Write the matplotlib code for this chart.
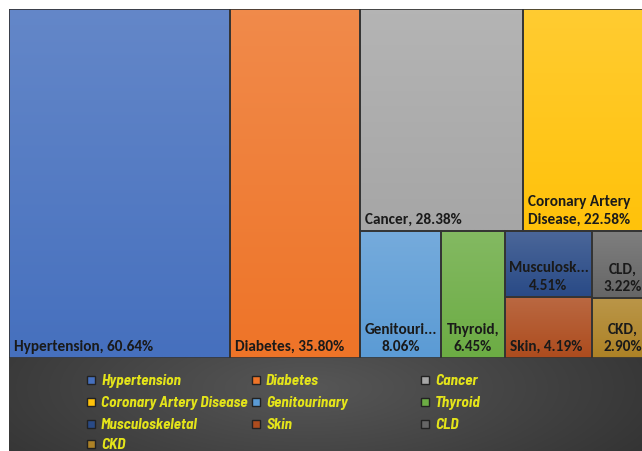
import numpy as np
import matplotlib
matplotlib.use("Agg")
from matplotlib import pyplot as plt
from matplotlib.colors import to_rgb

labels = ["Hypertension", "Diabetes", "Cancer", "Coronary Artery Disease",
          "Genitourinary", "Thyroid", "Musculoskeletal", "Skin", "CLD", "CKD"]
values = [60.64, 35.80, 28.38, 22.58, 8.06, 6.45, 4.51, 4.19, 3.22, 2.90]
box_text = ["Hypertension, 60.64%", "Diabetes, 35.80%", "Cancer, 28.38%",
            "Coronary Artery\nDisease, 22.58%", "Genitouri...\n8.06%",
            "Thyroid,\n6.45%", "Musculosk...\n4.51%", "Skin, 4.19%",
            "CLD,\n3.22%", "CKD,\n2.90%"]
colors = ["#4670be", "#ee7428", "#a6a6a6", "#ffc20a", "#5b9bd5",
          "#6cac44", "#294a86", "#ad4c1e", "#666666", "#ad8226"]


def lighten(c, f):
    r = np.array(to_rgb(c))
    return tuple(r + (1 - r) * f)


def layout(vals):
    # excel-like treemap: two full-height columns, then rows in the rest
    rects = []
    x = 0.0
    for v in vals[:2]:
        rects.append((x, 0.0, v, 1.0))
        x += v
    rest = vals[2:]
    rw = sum(rest)
    top = rest[:2]
    th = sum(top) / rw
    xx = x
    for v in top:
        w = v / sum(top) * rw
        rects.append((xx, 0.0, w, th))
        xx += w
    bot_h = 1.0 - th
    bot = rest[2:]
    bs = sum(bot)
    xx = x
    for v in bot[:2]:
        w = v / bs * rw
        rects.append((xx, th, w, bot_h))
        xx += w
    for pair in (bot[2:4], bot[4:6]):
        w = sum(pair) / bs * rw
        yy = th
        for v in pair:
            h = v / sum(pair) * bot_h
            rects.append((xx, yy, w, h))
            yy += h
        xx += w
    return rects


W, H = 642, 452
fig = plt.figure(figsize=(W / 100, H / 100), dpi=100)
fig.patch.set_facecolor("white")

# legend background
bg = fig.add_axes([9 / W, 0, 1 - 9 / W, 1 - 359 / H])
yy, xx = np.mgrid[0:93, 0:633]
d = np.sqrt(((xx - 300) / 420) ** 2 + ((yy - 30) / 140) ** 2)
shade = np.clip(0.34 - 0.15 * d, 0.18, 0.34)
bg.imshow(np.dstack([shade, shade, shade]), aspect="auto",
          extent=[0, 633, 93, 0], interpolation="bilinear")
bg.set_xlim(0, 633)
bg.set_ylim(93, 0)
bg.axis("off")

# treemap axes (slightly cropped at right like the reference)
total = sum(values)
ax = fig.add_axes([9 / W, 1 - 359 / H, 644 / W, 349 / H])
ax.set_xlim(0, total)
ax.set_ylim(1, 0)
ax.axis("off")

px_x = total / 644
px_y = 1 / 349
font_box = ["Carlito", "Lato", "DejaVu Sans"]
for (x, y, w, h), c, t in zip(layout(values), colors, box_text):
    grad = np.linspace(0, 1, 64)[:, None, None]
    ctop = np.array(lighten(c, 0.16))
    cbot = np.array(to_rgb(c))
    img = ctop * (1 - grad) + cbot * grad
    ax.imshow(img, aspect="auto", extent=[x, x + w, y + h, y],
              interpolation="bilinear", zorder=1)
    ax.add_patch(plt.Rectangle((x, y), w, h, fill=False, edgecolor="#333333",
                               lw=1.2, zorder=2))
    if "\n" in t and not t.startswith("Coronary"):
        ax.text(x + w / 2, y + h - 5 * px_y, t, ha="center", va="bottom",
                fontsize=11, fontweight="bold", color="#1a1a1a",
                family=font_box, linespacing=1.3, zorder=3)
    else:
        ax.text(x + 5 * px_x, y + h - 5 * px_y, t, ha="left", va="bottom",
                fontsize=11, fontweight="bold", color="#1a1a1a",
                family=font_box, linespacing=1.3, zorder=3)

# legend entries
col_x = [91, 256, 425]
row_y = [381, 403, 425, 445]
font_leg = ["Barlow Semi Condensed", "Roboto Condensed", "Lato", "DejaVu Sans"]
for i, (lab, c) in enumerate(zip(labels, colors)):
    cx = col_x[i % 3]
    cy = row_y[i // 3]
    fig.patches.append(plt.Rectangle(((cx - 4) / W, 1 - (cy + 4) / H), 8 / W, 8 / H,
                                     transform=fig.transFigure, facecolor=c,
                                     edgecolor="#222222", lw=1.0))
    fig.text((cx + 10) / W, 1 - cy / H, lab, ha="left", va="center",
             fontsize=11, fontweight="bold", style="italic", color="#e4e41a",
             family=font_leg)

fig.savefig("out.png", dpi=100)
